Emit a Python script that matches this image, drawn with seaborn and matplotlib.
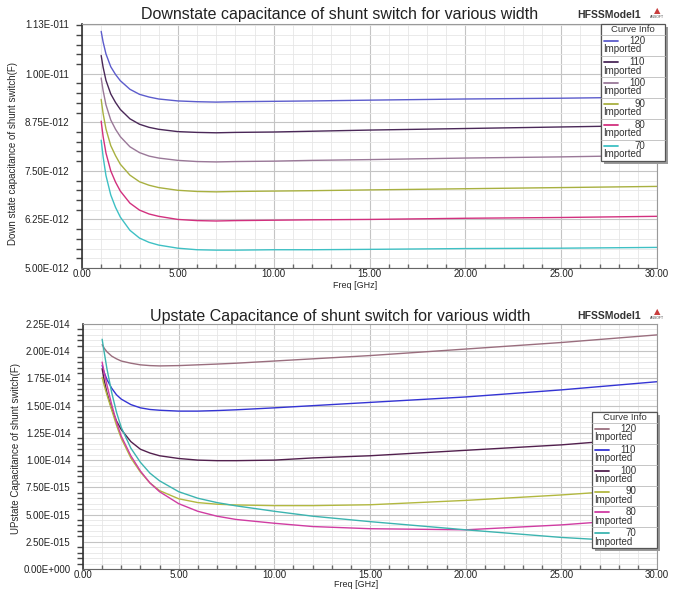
import numpy as np
import pandas as pd
import seaborn as sns
import matplotlib.pyplot as plt
from matplotlib.lines import Line2D
from matplotlib.patches import Rectangle
from matplotlib.ticker import MultipleLocator, FixedLocator, FuncFormatter

# frequency samples (GHz)
freq = [1, 1.1, 1.25, 1.5, 1.75, 2, 2.5, 3, 3.5, 4, 5, 6, 7, 8, 10, 12, 15, 20, 25, 30]
widths = ["120", "110", "100", "90", "80", "70"]

# downstate capacitance, pF
dn_120 = [11.09, 10.82, 10.51, 10.18, 9.98, 9.82, 9.60, 9.47, 9.40, 9.35,
          9.30, 9.28, 9.27, 9.28, 9.29, 9.30, 9.32, 9.35, 9.37, 9.40]
dn_110 = [10.47, 10.17, 9.83, 9.48, 9.26, 9.08, 8.84, 8.70, 8.62, 8.57,
          8.51, 8.49, 8.48, 8.49, 8.50, 8.52, 8.55, 8.59, 8.63, 8.67]
dn_100 = [9.89, 9.57, 9.20, 8.81, 8.57, 8.38, 8.12, 7.97, 7.88, 7.83,
          7.77, 7.74, 7.73, 7.74, 7.75, 7.77, 7.79, 7.83, 7.86, 7.90]
dn_90 = [9.34, 8.98, 8.58, 8.15, 7.89, 7.67, 7.39, 7.22, 7.13, 7.07,
         7.00, 6.97, 6.96, 6.97, 6.98, 6.99, 7.01, 7.04, 7.07, 7.10]
dn_80 = [8.78, 8.39, 7.96, 7.50, 7.21, 6.98, 6.67, 6.49, 6.39, 6.33,
         6.25, 6.22, 6.21, 6.22, 6.23, 6.24, 6.25, 6.28, 6.30, 6.33]
dn_70 = [8.29, 7.87, 7.38, 6.88, 6.56, 6.31, 5.97, 5.77, 5.66, 5.59,
         5.51, 5.47, 5.46, 5.46, 5.47, 5.47, 5.48, 5.50, 5.51, 5.53]

# upstate capacitance, fF
up_120 = [20.6, 20.3, 19.95, 19.55, 19.3, 19.1, 18.9, 18.75, 18.68, 18.65,
          18.68, 18.75, 18.82, 18.9, 19.1, 19.3, 19.6, 20.2, 20.8, 21.5]
up_110 = [18.7, 18.1, 17.4, 16.6, 16.0, 15.6, 15.1, 14.8, 14.65, 14.58,
          14.5, 14.5, 14.55, 14.62, 14.8, 15.0, 15.3, 15.8, 16.45, 17.2]
up_100 = [18.4, 17.4, 16.2, 14.7, 13.6, 12.8, 11.7, 11.0, 10.65, 10.4,
          10.15, 10.0, 9.95, 9.95, 10.0, 10.2, 10.4, 10.9, 11.4, 12.1]
up_90 = [17.6, 16.9, 16.0, 14.6, 13.2, 12.0, 10.2, 8.9, 7.9, 7.2,
         6.45, 6.1, 5.95, 5.88, 5.82, 5.82, 5.9, 6.3, 6.8, 7.4]
up_80 = [19.0, 18.1, 16.9, 15.1, 13.5, 12.2, 10.4, 9.0, 7.9, 7.1,
         6.0, 5.3, 4.85, 4.55, 4.2, 3.9, 3.7, 3.6, 4.05, 4.7]
up_70 = [21.1, 20.0, 18.4, 16.2, 14.4, 13.0, 11.1, 9.8, 8.8, 8.1,
         7.1, 6.5, 6.1, 5.8, 5.3, 4.85, 4.35, 3.6, 2.9, 2.4]

dn_colors = ["#5c5ccc", "#4a2858", "#9a7898", "#a8b040", "#d2307e", "#3ec0c4"]
up_colors = ["#9a6e7e", "#3434d4", "#52204e", "#b2b840", "#d03ca2", "#3cb4b0"]

W, H = 678, 590


def px(x, y):
    return x / W, 1 - y / H


def sci(v, pos=None):
    if v == 0:
        return "0.00E+000"
    e = int(np.floor(np.log10(abs(v))))
    m = v / 10 ** e
    if round(m, 2) >= 10:
        m /= 10
        e += 1
    return f"{m:.2f}E{e:+04d}"


def long_df(curves, scale):
    rows = []
    for w, vals in zip(widths, curves):
        for f, v in zip(freq, vals):
            rows.append((f, v * scale, w))
    return pd.DataFrame(rows, columns=["freq", "cap", "width"])


def style_axes(ax, yticks, ylim, yminor, xlab_y):
    ax.set_xlim(0, 30)
    ax.set_ylim(*ylim)
    ax.xaxis.set_major_locator(MultipleLocator(5))
    ax.xaxis.set_minor_locator(MultipleLocator(1))
    ax.xaxis.set_major_formatter(FuncFormatter(lambda v, p: f"{v:.2f}"))
    ax.yaxis.set_major_locator(FixedLocator(yticks))
    ax.yaxis.set_minor_locator(MultipleLocator(yminor))
    ax.yaxis.set_major_formatter(FuncFormatter(sci))
    ax.grid(which="major", color="#c4c4c4", lw=0.8)
    ax.grid(which="minor", color="#e6e6e6", lw=0.6)
    ax.set_axisbelow(True)
    ax.tick_params(axis="y", which="major", direction="out", length=7,
                   width=1.2, labelsize=7, pad=2, colors="#222222")
    ax.tick_params(axis="y", which="minor", direction="out", length=4,
                   width=1, colors="#444444", left=True)
    ax.tick_params(axis="x", which="major", direction="in", length=4,
                   labelsize=7, pad=1, colors="#444444")
    ax.tick_params(axis="x", which="minor", direction="in", length=3,
                   colors="#666666", bottom=True)
    for lbl in ax.get_xticklabels() + ax.get_yticklabels():
        lbl.set_color("#222222")
    for s in ax.spines.values():
        s.set_color("#9a9a9a")
        s.set_linewidth(0.8)
    ax.spines["left"].set_color("#333333")
    ax.spines["left"].set_linewidth(1.2)
    ax.spines["bottom"].set_color("#666666")
    ax.set_xlabel("Freq [GHz]", fontsize=6.5)
    ax.xaxis.set_label_coords(0.475, xlab_y)


def curve_info(fig, x0, x1, y0, y1, head, colors):
    fig.patches.append(Rectangle(px(x0 + 3, y1 + 3), (x1 - x0) / W,
                                 (y1 - y0) / H, transform=fig.transFigure,
                                 fc="#9a9a9a", ec="none", zorder=9))
    fig.patches.append(Rectangle(px(x0, y1), (x1 - x0) / W, (y1 - y0) / H,
                                 transform=fig.transFigure, fc="white",
                                 ec="#555555", lw=0.9, zorder=10))
    fig.text(*px((x0 + x1) / 2, (y0 + head) / 2 + 0.5), "Curve Info",
             fontsize=6.8, ha="center", va="center", color="#333333",
             zorder=11)
    row = (y1 - head) / len(widths)
    for k, (w, c) in enumerate(zip(widths, colors)):
        yt = head + k * row
        fig.add_artist(Line2D([(x0 + 3) / W, (x0 + 17) / W],
                              [1 - (yt + 6) / H] * 2, color=c, lw=1.3,
                              zorder=11))
        fig.add_artist(Line2D([x0 / W, x1 / W], [1 - yt / H] * 2,
                              color="#bbbbbb", lw=0.6, zorder=11))
        fig.text(*px(x0 + 44, yt + 6), w, fontsize=7, ha="right",
                 va="center", color="#333333", zorder=11)
        fig.text(*px(x0 + 2, yt + 14.5), "Imported", fontsize=7, ha="left",
                 va="center", color="#333333", zorder=11)


sns.set_theme(style="whitegrid")
plt.rcParams["font.family"] = ["Liberation Sans", "DejaVu Sans"]

fig = plt.figure(figsize=(6.78, 5.90), dpi=100)
ax1 = fig.add_axes([82 / W, 1 - 268 / H, 575 / W, 244 / H])
ax2 = fig.add_axes([83 / W, 1 - 569 / H, 574 / W, 245 / H])

df_dn = long_df([dn_120, dn_110, dn_100, dn_90, dn_80, dn_70], 1e-12)
sns.lineplot(data=df_dn, x="freq", y="cap", hue="width", hue_order=widths,
             palette=dict(zip(widths, dn_colors)), lw=1.0, legend=False, ax=ax1)
style_axes(ax1, [5e-12, 6.25e-12, 7.5e-12, 8.75e-12, 1e-11, 1.128e-11],
           (5e-12, 1.128e-11), 0.25e-12, -0.052)
ax1.set_ylabel("Down state capacitance of shunt switch(F)", fontsize=7)
ax1.yaxis.set_label_coords(-0.112, 0.47)

df_up = long_df([up_120, up_110, up_100, up_90, up_80, up_70], 1e-15)
sns.lineplot(data=df_up, x="freq", y="cap", hue="width", hue_order=widths,
             palette=dict(zip(widths, up_colors)), lw=1.0, legend=False, ax=ax2)
style_axes(ax2, list(np.arange(0, 2.26e-14, 0.25e-14)), (0, 2.25e-14),
           0.05e-14, -0.044)
ax2.set_ylabel("UPstate Capacitance of shunt switch(F)", fontsize=7)
ax2.yaxis.set_label_coords(-0.108, 0.49)

for ttl, ty in [("Downstate capacitance of shunt switch for various width", 15),
                ("Upstate Capacitance of shunt switch for various width", 316)]:
    fig.text(*px(340, ty), ttl, fontsize=11.5, ha="center", va="center",
             color="#222222")
    fig.text(*px(609, ty), "HFSSModel1", fontsize=7.5, ha="center",
             va="center", weight="bold", color="#333333")
    fig.text(*px(657, ty - 4), "\u25b2", fontsize=6, ha="center",
             va="center", color="#c83c3c", family="DejaVu Sans")
    fig.text(*px(657, ty + 2), "ANSOFT", fontsize=2.5, ha="center",
             va="center", color="#444444")

curve_info(fig, 601, 665, 24, 161, 35, dn_colors)
curve_info(fig, 592, 657, 412, 548, 423, up_colors)

fig.savefig("out.png", dpi=100, facecolor="white")
